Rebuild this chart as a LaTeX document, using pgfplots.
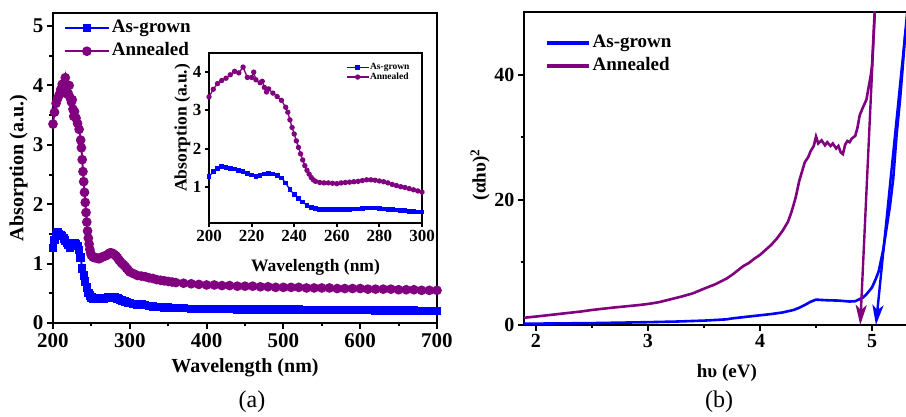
\documentclass[border=0pt]{standalone}
\usepackage{pgfplots}
\pgfplotsset{compat=1.18}
\usepackage{pgfplotstable}
\usepackage{fontspec}
\setmainfont{Liberation Serif}
\usetikzlibrary{arrows.meta}

\definecolor{agblue}{RGB}{0,0,255}
\definecolor{anpurple}{RGB}{128,0,128}

% absorption spectra, wavelength (nm) vs absorption (a.u.)
\pgfplotstableread{
wl a
200 1.26
202 1.40
204 1.47
206 1.53
208 1.50
210 1.47
212 1.46
214 1.42
216 1.39
218 1.35
220 1.31
222 1.27
224 1.30
226 1.33
228 1.34
230 1.33
232 1.30
234 1.23
236 1.10
238 0.92
240 0.80
242 0.70
244 0.60
246 0.51
248 0.46
250 0.43
252 0.41
254 0.41
256 0.40
258 0.41
260 0.41
262 0.41
264 0.41
266 0.41
268 0.42
270 0.42
272 0.43
274 0.44
276 0.44
278 0.44
280 0.43
282 0.42
284 0.41
286 0.40
288 0.39
290 0.38
292 0.37
294 0.36
296 0.35
298 0.34
300 0.34
305 0.32
310 0.31
315 0.31
320 0.30
325 0.29
330 0.28
335 0.27
340 0.27
345 0.26
350 0.26
355 0.25
360 0.25
370 0.25
380 0.24
390 0.24
400 0.24
410 0.24
420 0.24
430 0.24
440 0.23
450 0.23
460 0.23
470 0.23
480 0.23
490 0.23
500 0.23
510 0.23
520 0.23
530 0.22
540 0.22
550 0.22
560 0.22
570 0.22
580 0.22
590 0.22
600 0.22
610 0.22
620 0.21
630 0.21
640 0.21
650 0.21
660 0.21
670 0.21
680 0.20
690 0.20
700 0.20
}\asgrown

\pgfplotstableread{
wl a
200 3.35
202 3.55
204 3.70
206 3.78
208 3.84
210 3.93
212 4.02
214 3.98
216 4.13
218 3.86
220 3.86
221 4.00
222 3.80
224 3.72
225 3.76
226 3.60
227 3.48
228 3.56
230 3.45
232 3.36
234 3.26
236 3.08
237 2.95
238 2.75
239 2.55
240 2.38
241 2.20
242 2.03
243 1.86
244 1.70
245 1.55
246 1.43
247 1.33
248 1.24
249 1.18
250 1.14
252 1.11
254 1.10
256 1.10
258 1.09
260 1.08
262 1.10
264 1.11
266 1.12
268 1.13
270 1.14
272 1.16
274 1.18
276 1.18
278 1.17
280 1.15
282 1.13
284 1.10
286 1.06
288 1.03
290 1.00
292 0.98
294 0.95
296 0.92
298 0.89
300 0.86
305 0.83
310 0.80
315 0.79
320 0.78
325 0.76
330 0.75
335 0.73
340 0.72
345 0.71
350 0.70
355 0.69
360 0.68
370 0.67
380 0.66
390 0.65
400 0.64
410 0.64
420 0.63
430 0.63
440 0.62
450 0.62
460 0.62
470 0.61
480 0.61
490 0.60
500 0.60
510 0.60
520 0.60
530 0.59
540 0.59
550 0.59
560 0.59
570 0.58
580 0.58
590 0.58
600 0.58
610 0.57
620 0.57
630 0.57
640 0.57
650 0.56
660 0.56
670 0.56
680 0.55
690 0.55
700 0.55
}\annealed

% Tauc plot, hv (eV) vs (alpha hv)^2
\pgfplotstableread{
e t
1.89 0.20
2.00 0.22
2.50 0.30
3.00 0.45
3.25 0.55
3.50 0.70
3.70 0.90
3.75 1.05
3.80 1.15
3.90 1.35
4.00 1.55
4.10 1.75
4.20 2.00
4.30 2.40
4.35 2.75
4.40 3.20
4.45 3.70
4.50 4.05
4.55 4.00
4.60 3.95
4.70 3.90
4.80 3.75
4.85 3.80
4.88 4.05
4.92 4.40
4.95 4.90
5.00 6.00
5.03 7.20
5.06 8.60
5.10 12.0
5.13 15.5
5.16 19.0
5.19 23.5
5.22 30.5
5.25 36.0
5.27 40.3
5.30 47.2
5.32 51.0
}\taucag

\pgfplotstableread{
e t
1.89 1.15
2.00 1.35
2.20 1.75
2.40 2.15
2.50 2.40
2.70 2.80
2.90 3.15
3.00 3.36
3.10 3.65
3.20 4.10
3.30 4.55
3.40 5.05
3.50 5.80
3.60 6.50
3.70 7.40
3.75 8.00
3.80 8.70
3.85 9.40
3.90 9.90
3.95 10.6
4.00 11.2
4.05 12.0
4.10 12.8
4.15 13.8
4.20 15.0
4.25 16.5
4.28 18.0
4.30 19.2
4.32 20.5
4.35 23.0
4.38 24.8
4.40 26.0
4.43 26.8
4.45 27.7
4.48 28.6
4.50 30.1
4.52 29.0
4.55 29.5
4.58 28.7
4.60 29.2
4.63 28.6
4.65 29.0
4.68 28.2
4.70 28.6
4.72 27.6
4.74 27.3
4.76 28.8
4.78 29.4
4.80 29.2
4.82 29.8
4.85 30.2
4.87 31.5
4.89 33.5
4.92 34.8
4.95 36.0
4.97 38.0
4.99 40.0
5.00 41.5
5.01 45.0
5.025 50.5
}\taucan

\pgfplotsset{
  panel/.style={
    scale only axis,
    anchor=south west,
    axis line style={line width=2.4pt},
    tick align=outside,
    tick pos=left,
    major tick length=6pt,
    minor tick length=3.5pt,
    every tick/.style={black, line width=2pt},
    /pgf/number format/assume math mode=true,
    tick label style={font=\fontsize{21}{24}\selectfont\bfseries},
    label style={font=\fontsize{20}{23}\selectfont\bfseries},
    legend cell align=left,
  },
}

\begin{document}
\begin{tikzpicture}
\useasboundingbox (0pt,0pt) rectangle (906pt,417pt);

% (a) main panel
\begin{axis}[panel,
  at={(53pt,94pt)}, width=384pt, height=310pt,
  xmin=200, xmax=700, ymin=0, ymax=5.22,
  xtick={200,300,...,700}, ytick={0,1,...,5},
  minor x tick num=1, minor y tick num=1,
  xticklabel style={yshift=-1pt},
  xlabel={Wavelength (nm)}, ylabel={Absorption (a.u.)},
  xlabel style={at={(rel axis cs:0.5,-0.145)}, anchor=center},
  ylabel style={at={(rel axis cs:-0.09,0.5)}, anchor=center},
  legend style={at={(rel axis cs:0.02,0.995)}, anchor=north west, draw=none, fill=none,
    font=\fontsize{19}{22}\selectfont\bfseries, row sep=0pt,
    nodes={inner sep=2pt, text height=14pt, text depth=5pt}},
  legend image code/.code={\draw[mark repeat=2, mark phase=2, #1] plot coordinates {(0pt,0pt) (22pt,0pt) (44pt,0pt)};},
]
\addplot[agblue, line width=2pt, mark=square*, mark size=3.2pt] table[x=wl, y=a] {\asgrown};
\addlegendentry{As-grown}
\addplot[anpurple, line width=2pt, mark=*, mark size=3.8pt] table[x=wl, y=a] {\annealed};
\addlegendentry{Annealed}
\end{axis}

% inset
\begin{axis}[panel,
  at={(209pt,194pt)}, width=213pt, height=170pt,
  xmin=200, xmax=300, ymin=0.05, ymax=4.5,
  xtick={200,220,...,300}, ytick={1,2,3,4},
  major tick length=4pt,
  tick label style={font=\fontsize{17}{20}\selectfont\bfseries},
  label style={font=\fontsize{17.5}{20}\selectfont\bfseries},
  xlabel={Wavelength (nm)}, ylabel={Absorption (a.u.)},
  xlabel style={at={(rel axis cs:0.5,-0.26)}, anchor=center},
  ylabel style={at={(rel axis cs:-0.125,0.56)}, anchor=center},
  legend style={at={(rel axis cs:0.96,0.955)}, anchor=north east, draw=none, fill=none,
    font=\fontsize{9.5}{11}\selectfont\bfseries, row sep=0pt,
    nodes={inner sep=0.8pt}},
  legend image code/.code={\draw[mark repeat=2, mark phase=2, #1] plot coordinates {(0pt,0pt) (11pt,0pt) (22pt,0pt)};},
]
\addplot[agblue, line width=1.3pt, mark=square*, mark size=1.7pt] table[x=wl, y=a] {\asgrown};
\addlegendentry{As-grown}
\addplot[anpurple, line width=1.3pt, mark=*, mark size=2pt] table[x=wl, y=a] {\annealed};
\addlegendentry{Annealed}
\end{axis}

% (b) Tauc panel
\begin{axis}[panel,
  at={(524pt,92pt)}, width=388pt, height=313pt,
  xmin=1.893, xmax=5.357, ymin=0, ymax=50,
  xtick={2,3,4,5}, ytick={0,20,40},
  minor x tick num=1, minor y tick num=1,
  tick label style={font=\fontsize{20}{23}\selectfont\bfseries},
  label style={font=\fontsize{19}{22}\selectfont\bfseries},
  xlabel={hυ (eV)}, ylabel={(αhυ)\textsuperscript{2}},
  xlabel style={at={(rel axis cs:0.523,-0.153)}, anchor=center},
  ylabel style={at={(rel axis cs:-0.113,0.48)}, anchor=center},
  legend style={at={(rel axis cs:0.045,0.945)}, anchor=north west, draw=none, fill=none,
    font=\fontsize{19}{22}\selectfont\bfseries, row sep=0pt,
    nodes={inner sep=2pt, text height=14pt, text depth=5pt}},
  legend image code/.code={\draw[#1, line width=4pt] (0pt,0pt) -- (42pt,0pt);},
]
\addplot[agblue, line width=2.6pt] table[x=e, y=t] {\taucag};
\addlegendentry{As-grown}
\addplot[anpurple, line width=2.6pt] table[x=e, y=t] {\taucan};
\addlegendentry{Annealed}
\addplot[anpurple, line width=2.4pt, -{Stealth[length=20pt, width=11pt, inset=5pt]}, forget plot]
  coordinates {(5.025,50) (4.895,0)};
\addplot[agblue, line width=2.4pt, -{Stealth[length=20pt, width=11pt, inset=5pt]}, forget plot]
  coordinates {(5.30,47.2) (5.035,0)};
\end{axis}

\node[font=\fontsize{24}{28}\selectfont] at (252pt,15pt) {(a)};
\node[font=\fontsize{24}{28}\selectfont] at (719pt,15pt) {(b)};
\end{tikzpicture}
\end{document}
